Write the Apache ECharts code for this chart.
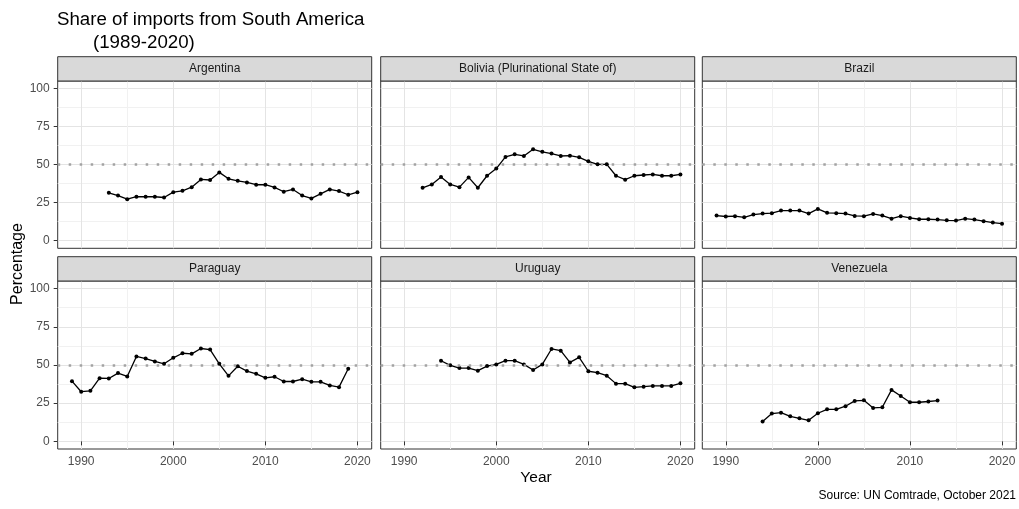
<!DOCTYPE html>
<html>
<head>
<meta charset="utf-8">
<script src="https://cdn.jsdelivr.net/npm/echarts@6/dist/echarts.min.js"></script>
<style>
  html, body { margin: 0; padding: 0; background: #ffffff; }
  #chart { width: 1019px; height: 509px; }
</style>
</head>
<body>
<div id="chart"></div>
<script>
// Share of imports coming from South America, by country (%)
const years = [1989, 1990, 1991, 1992, 1993, 1994, 1995, 1996, 1997, 1998, 1999,
               2000, 2001, 2002, 2003, 2004, 2005, 2006, 2007, 2008, 2009, 2010,
               2011, 2012, 2013, 2014, 2015, 2016, 2017, 2018, 2019, 2020];

const countries = ['Argentina', 'Bolivia (Plurinational State of)', 'Brazil',
                   'Paraguay', 'Uruguay', 'Venezuela'];

const argentina = [null, null, null, null, 31.5, 29.7, 27.3, 28.9, 28.9, 28.9, 28.4,
                   31.9, 32.8, 35.2, 40.3, 39.9, 44.9, 40.7, 39.4, 38.3, 36.8, 36.8,
                   35.0, 32.2, 33.7, 29.7, 27.8, 30.8, 33.7, 32.6, 30.2, 31.9];

const bolivia = [null, null, null, 34.8, 37.0, 41.9, 37.0, 35.2, 41.6, 34.8, 42.7,
                 47.4, 55.1, 56.8, 55.7, 60.1, 58.4, 57.3, 55.7, 55.9, 54.8, 52.2,
                 50.2, 50.2, 42.7, 40.1, 42.7, 43.2, 43.6, 42.7, 42.7, 43.6];

const brazil = [16.5, 15.9, 16.1, 15.4, 17.2, 17.8, 18.1, 19.8, 19.8, 19.8, 17.8,
                20.9, 18.3, 18.1, 17.8, 16.3, 16.1, 17.6, 16.5, 14.5, 16.1, 15.0,
                14.1, 14.1, 13.9, 13.4, 13.2, 14.5, 13.9, 12.8, 11.9, 11.2];

const paraguay = [39.4, 32.5, 33.1, 41.4, 41.2, 44.7, 42.5, 55.6, 54.2, 52.3, 50.8,
                  54.7, 57.7, 57.3, 60.8, 60.1, 50.8, 42.9, 49.2, 46.0, 44.2, 41.6,
                  42.3, 39.2, 39.2, 40.7, 39.0, 39.0, 36.6, 35.5, 47.5, null];

const uruguay = [null, null, null, null, null, 52.8, 49.8, 48.0, 48.0, 46.3, 49.3,
                 50.4, 52.8, 52.8, 50.4, 46.7, 50.4, 60.5, 59.4, 51.7, 55.0, 45.9,
                 45.0, 43.0, 37.8, 37.8, 35.4, 35.8, 36.3, 36.3, 36.3, 38.0];

const venezuela = [null, null, null, null, null, 13.0, 18.2, 18.8, 16.4, 15.1, 13.8,
                   18.4, 21.0, 21.0, 23.0, 26.5, 26.9, 21.9, 22.3, 33.7, 29.7, 25.6,
                   25.6, 26.1, 26.7, null, null, null, null, null, null, null];

const seriesValues = [argentina, bolivia, brazil, paraguay, uruguay, venezuela];

const xTicks = [1990, 2000, 2010, 2020];
const yTicks = [0, 25, 50, 75, 100];
const referenceLevel = 50;

const titleText = 'Share of imports from South America';
const subtitleText = '(1989-2020)';
const xAxisTitle = 'Year';
const yAxisTitle = 'Percentage';
const sourceText = 'Source: UN Comtrade, October 2021';

// ---- panel layout (pixels) ----
const FONT = "'Liberation Sans', Arial, sans-serif";
const colLeft = [57.7, 380.7, 702.3];
const panelW = 314;
const rowTop = [81, 281];
const panelH = [167.3, 168];
const stripH = 24.3;

const grids = [], xAxes = [], yAxes = [], series = [], graphics = [];

countries.forEach((name, i) => {
  const row = Math.floor(i / 3), col = i % 3;
  const left = colLeft[col], top = rowTop[row];
  const bottomRow = row === 1, leftCol = col === 0;

  grids.push({
    left: left, top: top, width: panelW, height: panelH[row],
    show: true, borderColor: '#333333', borderWidth: 1, backgroundColor: '#ffffff',
    containLabel: false, outerBoundsMode: 'none'
  });

  xAxes.push({
    gridIndex: i, type: 'value',
    min: 1987.45, max: 2021.55, splitNumber: 3, minInterval: 10, maxInterval: 10,
    axisLine: { show: false },
    axisTick: { show: bottomRow, length: 4, customValues: xTicks,
                lineStyle: { color: '#333333', width: 1 } },
    axisLabel: { show: bottomRow, customValues: xTicks, color: '#4d4d4d',
                 fontSize: 12, fontFamily: FONT, margin: 7,
                 formatter: v => (xTicks.includes(v) ? String(v) : '') },
    splitLine: { show: true, lineStyle: { color: '#e4e4e4', width: 1 } },
    minorTick: { show: false, splitNumber: 2 },
    minorSplitLine: { show: true, lineStyle: { color: '#f1f1f1', width: 1 } }
  });

  yAxes.push({
    gridIndex: i, type: 'value',
    min: -5, max: 105, splitNumber: 4, minInterval: 25, maxInterval: 25,
    axisLine: { show: false },
    axisTick: { show: leftCol, length: 4, customValues: yTicks,
                lineStyle: { color: '#333333', width: 1 } },
    axisLabel: { show: leftCol, customValues: yTicks, color: '#4d4d4d',
                 fontSize: 12, fontFamily: FONT, margin: 8,
                 formatter: v => (yTicks.includes(v) ? String(v) : '') },
    splitLine: { show: true, lineStyle: { color: '#e4e4e4', width: 1 } },
    minorTick: { show: false, splitNumber: 2 },
    minorSplitLine: { show: true, lineStyle: { color: '#f1f1f1', width: 1 } }
  });

  const values = seriesValues[i];
  series.push({
    name: name, type: 'line', xAxisIndex: i, yAxisIndex: i,
    data: years.map((y, k) => [y, values[k]]).filter(d => d[1] !== null),
    symbol: 'circle', symbolSize: 4,
    itemStyle: { color: '#000000' },
    lineStyle: { color: '#000000', width: 1.3 },
    silent: true,
    markLine: {
      silent: true, symbol: 'none', label: { show: false },
      lineStyle: { color: '#a3a3a3', type: [2.5, 8.5], width: 2.5, cap: 'butt' },
      data: [{ yAxis: referenceLevel }]
    }
  });

  // facet strip
  graphics.push({
    type: 'rect', z: 10,
    shape: { x: left, y: top - stripH, width: panelW, height: stripH },
    style: { fill: '#d9d9d9', stroke: '#333333', lineWidth: 1 }
  });
  graphics.push({
    type: 'text', z: 11,
    x: left + panelW / 2, y: top - stripH / 2,
    style: { text: name, fill: '#1a1a1a', font: '12px ' + FONT,
             align: 'center', verticalAlign: 'middle' }
  });
});

// axis titles and source note
graphics.push({
  type: 'text', x: 536, y: 478,
  style: { text: xAxisTitle, fill: '#000000', font: '15.5px ' + FONT,
           align: 'center', verticalAlign: 'middle' }
});
graphics.push({
  type: 'text', x: 17.5, y: 264, rotation: Math.PI / 2,
  style: { text: yAxisTitle, fill: '#000000', font: '16px ' + FONT,
           align: 'center', verticalAlign: 'middle' }
});
graphics.push({
  type: 'text', x: 1016, y: 496,
  style: { text: sourceText, fill: '#000000', font: '12px ' + FONT,
           align: 'right', verticalAlign: 'middle' }
});

const chart = echarts.init(document.getElementById('chart'), null, { renderer: 'canvas' });
chart.setOption({
  backgroundColor: '#ffffff',
  animation: false,
  title: [
    { text: titleText, left: 57, top: 10, padding: 0,
      textStyle: { fontFamily: FONT, fontSize: 18.7, fontWeight: 'normal', color: '#000000' } },
    { text: subtitleText, left: 93, top: 33, padding: 0,
      textStyle: { fontFamily: FONT, fontSize: 18.7, fontWeight: 'normal', color: '#000000' } }
  ],
  grid: grids,
  xAxis: xAxes,
  yAxis: yAxes,
  series: series,
  graphic: graphics
});
</script>
</body>
</html>
